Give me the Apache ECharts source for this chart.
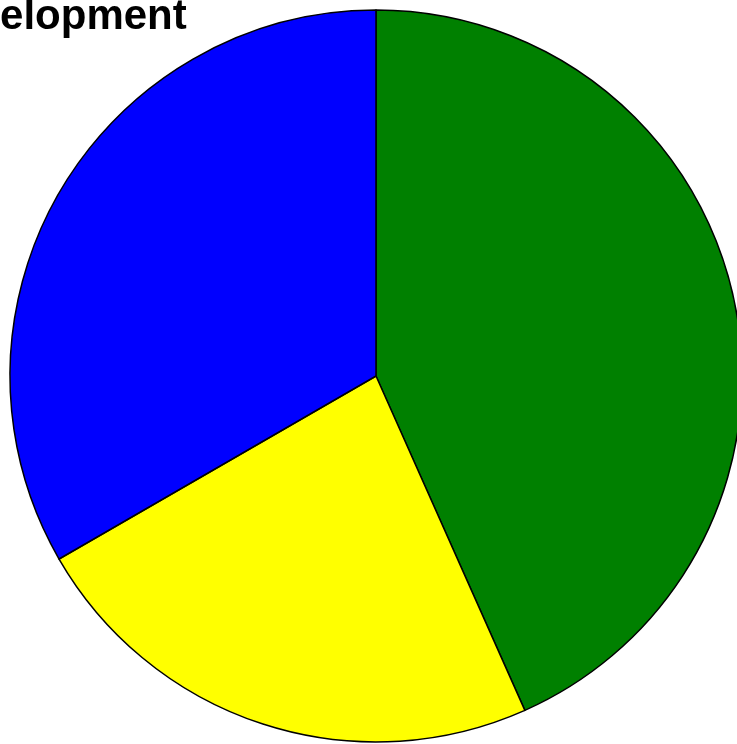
<!DOCTYPE html>
<html>
<head>
<meta charset="utf-8">
<script src="https://cdn.jsdelivr.net/npm/echarts@6/dist/echarts.min.js"></script>
<style>
  html, body { margin: 0; padding: 0; background: #fff; }
  #chart { width: 737px; height: 744px; }
</style>
</head>
<body>
<div id="chart"></div>
<script>
// pie data, clockwise from 12 o'clock
var categories = ['Green', 'Yellow', 'Blue'];
var values = [13, 7, 10];
var colors = ['#008000', '#ffff00', '#0000ff'];
var titleText = 'Development';

var chart = echarts.init(document.getElementById('chart'));

var option = {
  animation: false,
  title: {
    text: titleText,
    left: -82,
    top: -9,
    textStyle: {
      fontFamily: 'Liberation Sans, Arial, sans-serif',
      fontWeight: 'bold',
      fontSize: 42,
      color: '#000'
    }
  },
  series: [{
    type: 'pie',
    center: [376, 376],
    radius: [0, 366],
    startAngle: 90,
    clockwise: true,
    label: { show: false },
    labelLine: { show: false },
    itemStyle: { borderColor: '#000', borderWidth: 1.5 },
    data: categories.map(function (c, i) {
      return { name: c, value: values[i], itemStyle: { color: colors[i] } };
    })
  }]
};

chart.setOption(option);
</script>
</body>
</html>
